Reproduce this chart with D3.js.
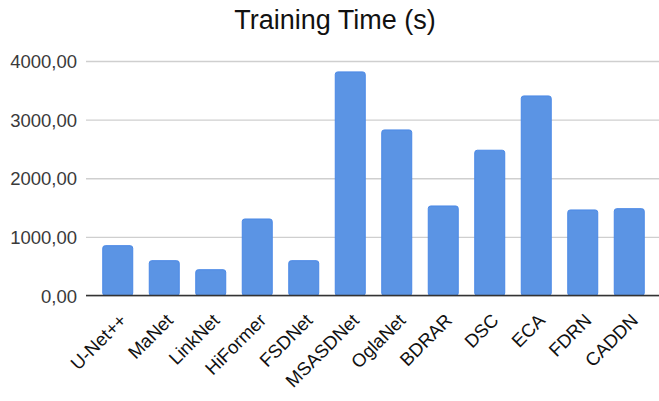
<!DOCTYPE html>
<html>
<head>
<meta charset="utf-8">
<script src="https://cdn.jsdelivr.net/npm/d3@7"></script>
<style>
  html, body { margin: 0; padding: 0; background: #fff; }
  svg { display: block; }
</style>
</head>
<body>
<svg id="chart" width="659" height="401"></svg>
<script>
// Training time per model, in seconds
const models = ["U-Net++", "MaNet", "LinkNet", "HiFormer", "FSDNet", "MSASDNet",
                "OglaNet", "BDRAR", "DSC", "ECA", "FDRN", "CADDN"];
const trainingTime = [850, 594, 440, 1305, 594, 3814, 2824, 1527, 2478, 3404, 1459, 1481];
const yTicks = [0, 1000, 2000, 3000, 4000];
const title = "Training Time (s)";

const W = 659, H = 401;
const font = "'Liberation Sans', Arial, sans-serif";

const svg = d3.select("#chart");

// Decimal comma number format, e.g. 4000,00
const locale = d3.formatLocale({ decimal: ",", thousands: "", grouping: [3], currency: ["", ""] });
const fmt = locale.format(".2f");

const x = d3.scaleBand()
  .domain(models)
  .range([94.5, 652.5])
  .paddingInner(0.355)
  .paddingOuter(0.1775);

const y = d3.scaleLinear()
  .domain([0, 4000])
  .range([295.5, 61]);

// Title
svg.append("text")
  .attr("x", 335)
  .attr("y", 28.5)
  .attr("text-anchor", "middle")
  .attr("font-family", font)
  .attr("font-size", 27)
  .attr("fill", "#111")
  .text(title);

// Horizontal gridlines with left-hand value labels
const yAxis = d3.axisLeft(y)
  .tickValues(yTicks)
  .tickFormat(fmt)
  .tickSize(-(W - 86))
  .tickPadding(9);

const gy = svg.append("g")
  .attr("transform", "translate(86,0)")
  .call(yAxis);
gy.select(".domain").remove();
gy.selectAll(".tick line")
  .attr("stroke", "#cfcfcf")
  .attr("stroke-width", 1.3);
gy.selectAll(".tick text")
  .attr("font-family", font)
  .attr("font-size", 18.5)
  .attr("fill", "#3a3a3a")
  .attr("dy", "0.36em");

// Bars
svg.append("g")
  .selectAll("rect")
  .data(models)
  .join("rect")
  .attr("x", (d) => x(d))
  .attr("width", x.bandwidth())
  .attr("y", (d, i) => y(trainingTime[i]))
  .attr("height", (d, i) => y(0) - y(trainingTime[i]))
  .attr("rx", 2.5)
  .attr("fill", "#5b94e4")
  .attr("stroke", "#4a88e6")
  .attr("stroke-width", 1);

// Baseline
svg.append("line")
  .attr("x1", 86).attr("x2", W)
  .attr("y1", y(0)).attr("y2", y(0))
  .attr("stroke", "#333")
  .attr("stroke-width", 1.3);

// Category labels, rotated
const xAxis = d3.axisBottom(x).tickSize(0).tickPadding(0);
const gx = svg.append("g")
  .attr("transform", `translate(0,${y(0)})`)
  .call(xAxis);
gx.select(".domain").remove();
gx.selectAll(".tick text")
  .attr("font-family", font)
  .attr("font-size", 18.5)
  .attr("fill", "#111")
  .attr("text-anchor", "end")
  .attr("dy", null)
  .attr("y", 0)
  .attr("transform", "translate(10,26) rotate(-45)");
</script>
</body>
</html>
